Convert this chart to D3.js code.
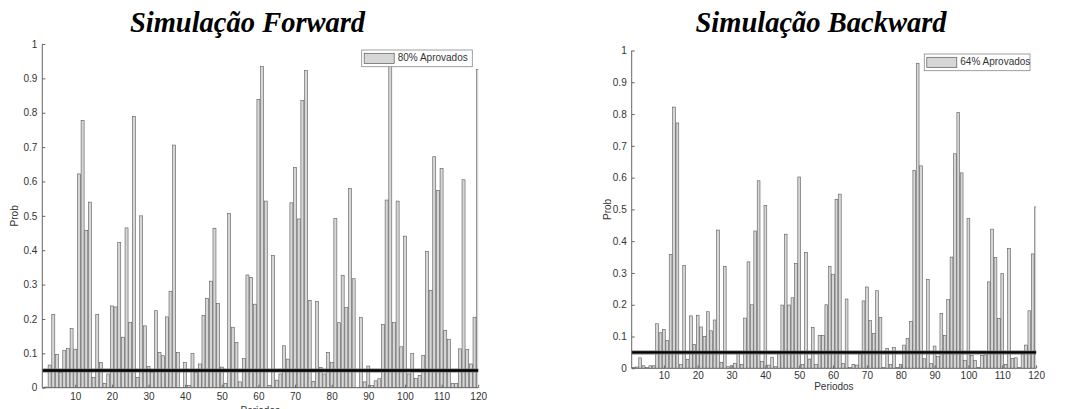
<!DOCTYPE html>
<html>
<head>
<meta charset="utf-8">
<script src="https://cdn.jsdelivr.net/npm/d3@7"></script>
<style>
  html, body { margin: 0; padding: 0; background: #fff; }
  svg { display: block; }
</style>
</head>
<body>
<svg id="chart" width="1076" height="409"></svg>
<script>
// ---------------- DATA ----------------
const periods = d3.range(1, 121);

const forwardValues = [
  0.000, 0.002, 0.066, 0.213, 0.097, 0.045, 0.108, 0.114, 0.172, 0.112,
  0.622, 0.778, 0.458, 0.540, 0.030, 0.213, 0.073, 0.012, 0.040, 0.238,
  0.235, 0.423, 0.147, 0.465, 0.190, 0.789, 0.030, 0.500, 0.180, 0.062,
  0.045, 0.224, 0.103, 0.093, 0.206, 0.280, 0.706, 0.103, 0.001, 0.073,
  0.007, 0.100, 0.045, 0.069, 0.210, 0.260, 0.310, 0.464, 0.245, 0.060,
  0.013, 0.507, 0.176, 0.131, 0.017, 0.085, 0.328, 0.321, 0.243, 0.839,
  0.934, 0.543, 0.006, 0.385, 0.022, 0.040, 0.122, 0.083, 0.538, 0.641,
  0.491, 0.836, 0.923, 0.254, 0.018, 0.251, 0.059, 0.040, 0.103, 0.074,
  0.492, 0.189, 0.327, 0.233, 0.579, 0.317, 0.001, 0.204, 0.017, 0.063,
  0.006, 0.020, 0.026, 0.184, 0.546, 0.970, 0.190, 0.543, 0.119, 0.441,
  0.040, 0.100, 0.027, 0.036, 0.094, 0.397, 0.283, 0.672, 0.574, 0.638,
  0.167, 0.141, 0.012, 0.012, 0.113, 0.605, 0.111, 0.069, 0.205, 0.926
];

const backwardValues = [
  0.002, 0.004, 0.033, 0.008, 0.002, 0.008, 0.008, 0.140, 0.112, 0.122,
  0.088, 0.358, 0.822, 0.772, 0.012, 0.324, 0.028, 0.165, 0.075, 0.167,
  0.130, 0.100, 0.178, 0.118, 0.152, 0.435, 0.018, 0.321, 0.005, 0.008,
  0.015, 0.048, 0.012, 0.158, 0.335, 0.200, 0.432, 0.590, 0.022, 0.512,
  0.010, 0.035, 0.005, 0.047, 0.199, 0.422, 0.199, 0.222, 0.330, 0.602,
  0.012, 0.365, 0.029, 0.128, 0.012, 0.103, 0.103, 0.200, 0.321, 0.296,
  0.532, 0.548, 0.015, 0.218, 0.002, 0.012, 0.010, 0.045, 0.212, 0.256,
  0.150, 0.109, 0.244, 0.160, 0.002, 0.063, 0.012, 0.066, 0.002, 0.012,
  0.073, 0.094, 0.147, 0.623, 0.960, 0.637, 0.030, 0.280, 0.015, 0.070,
  0.037, 0.173, 0.103, 0.217, 0.350, 0.675, 0.805, 0.615, 0.025, 0.471,
  0.040, 0.025, 0.003, 0.040, 0.042, 0.272, 0.438, 0.349, 0.157, 0.298,
  0.012, 0.377, 0.031, 0.033, 0.003, 0.045, 0.073, 0.181, 0.360, 0.508
];

const yTicks = [0, 0.1, 0.2, 0.3, 0.4, 0.5, 0.6, 0.7, 0.8, 0.9, 1];
const yTickLabels = ["0", "0.1", "0.2", "0.3", "0.4", "0.5", "0.6", "0.7", "0.8", "0.9", "1"];
const xTicks = [10, 20, 30, 40, 50, 60, 70, 80, 90, 100, 110, 120];
const threshold = 0.05;

const titles = ["Simulação Forward", "Simulação Backward"];
const legendLabels = ["80% Aprovados", "64% Aprovados"];
const xLabel = "Periodos";
const yLabel = "Prob";

// ---------------- LAYOUT ----------------
const svg = d3.select("#chart");
const sansFont = "'Liberation Sans', Arial, Helvetica, sans-serif";
const serifFont = "'Liberation Serif', 'Times New Roman', serif";

const panels = [
  {
    values: forwardValues, title: titles[0], legend: legendLabels[0],
    xDomain: [1, 120], xRange: [42.3, 478.2],
    yRange: [387.7, 44],
    titleX: 247.5, titleY: 32,
    legendBox: { x: 361.7, y: 50, w: 110.6, h: 16.7 },
    xLabelY: 411, yLabelX: 15.5, tickLabelPad: 5
  },
  {
    values: backwardValues, title: titles[1], legend: legendLabels[1],
    xDomain: [0.5, 120], xRange: [631.7, 1036.1],
    yRange: [368.3, 50.5],
    titleX: 821, titleY: 32,
    legendBox: { x: 924.3, y: 54, w: 105.7, h: 16.7 },
    xLabelY: 387.5, yLabelX: 608, tickLabelPad: 3.5
  }
];

panels.forEach((p, idx) => {
  const x = d3.scaleLinear().domain(p.xDomain).range(p.xRange);
  const y = d3.scaleLinear().domain([0, 1]).range(p.yRange);
  const step = x(2) - x(1);
  const barW = step * 0.82;
  const left = p.xRange[0], right = p.xRange[1];
  const bottom = p.yRange[0], top = p.yRange[1];

  const g = svg.append("g");

  // clip
  const clipId = "clip" + idx;
  svg.append("clipPath").attr("id", clipId)
    .append("rect")
    .attr("x", left).attr("y", top - 10)
    .attr("width", right - left).attr("height", bottom - top + 10);

  // bars
  g.append("g").attr("clip-path", `url(#${clipId})`)
    .selectAll("rect").data(periods).join("rect")
    .attr("x", d => x(d) - barW / 2)
    .attr("y", (d, i) => y(p.values[i]))
    .attr("width", barW)
    .attr("height", (d, i) => bottom - y(p.values[i]))
    .attr("fill", "#d6d6d6")
    .attr("stroke", "#5a5a5a")
    .attr("stroke-width", 0.6);

  // threshold line
  g.append("line")
    .attr("x1", left).attr("x2", right)
    .attr("y1", y(threshold)).attr("y2", y(threshold))
    .attr("stroke", "#777").attr("stroke-width", 4);
  g.append("line")
    .attr("x1", left).attr("x2", right)
    .attr("y1", y(threshold)).attr("y2", y(threshold))
    .attr("stroke", "#000").attr("stroke-width", 2.4);

  // y axis
  const yAxis = d3.axisLeft(y).tickValues(yTicks)
    .tickFormat((d, i) => yTickLabels[i]).tickSize(-3).tickPadding(5);
  const ya = g.append("g").attr("transform", `translate(${left},0)`).call(yAxis);
  ya.select(".domain").attr("stroke", "#666").attr("d", `M0,${bottom}V${top}`);
  ya.selectAll(".tick line").attr("stroke", "#666");
  ya.selectAll("text").attr("font-family", sansFont).attr("font-size", 10).attr("fill", "#333");

  // x axis
  const xAxis = d3.axisBottom(x).tickValues(xTicks).tickSize(-3).tickPadding(p.tickLabelPad);
  const xa = g.append("g").attr("transform", `translate(0,${bottom})`).call(xAxis);
  xa.select(".domain").attr("stroke", "#666").attr("d", `M${left},0H${right}`);
  xa.selectAll(".tick line").attr("stroke", "#666");
  xa.selectAll("text").attr("font-family", sansFont).attr("font-size", 10).attr("fill", "#333");

  // axis labels
  g.append("text")
    .attr("x", (left + right) / 2).attr("y", p.xLabelY)
    .attr("text-anchor", "middle").attr("dominant-baseline", "middle")
    .attr("font-family", sansFont).attr("font-size", 10).attr("fill", "#333")
    .text(xLabel);
  g.append("text")
    .attr("transform", `translate(${p.yLabelX},${(top + bottom) / 2}) rotate(-90)`)
    .attr("text-anchor", "middle").attr("dominant-baseline", "middle")
    .attr("font-family", sansFont).attr("font-size", 10).attr("fill", "#333")
    .text(yLabel);

  // title
  g.append("text")
    .attr("x", p.titleX).attr("y", p.titleY)
    .attr("text-anchor", "middle")
    .attr("font-family", serifFont).attr("font-size", 28.5)
    .attr("font-weight", "bold").attr("font-style", "italic")
    .attr("fill", "#000")
    .text(p.title);

  // legend
  const lb = p.legendBox;
  const lg = g.append("g");
  lg.append("rect").attr("x", lb.x).attr("y", lb.y).attr("width", lb.w).attr("height", lb.h)
    .attr("fill", "#fff").attr("stroke", "#888").attr("stroke-width", 0.8);
  lg.append("rect").attr("x", lb.x + 2.5).attr("y", lb.y + 3.3).attr("width", 30).attr("height", lb.h - 6.6)
    .attr("fill", "#d6d6d6").attr("stroke", "#5a5a5a").attr("stroke-width", 0.7);
  lg.append("text").attr("x", lb.x + 36).attr("y", lb.y + lb.h / 2)
    .attr("dominant-baseline", "middle")
    .attr("font-family", sansFont).attr("font-size", 10).attr("fill", "#333")
    .text(p.legend);
});
</script>
</body>
</html>
